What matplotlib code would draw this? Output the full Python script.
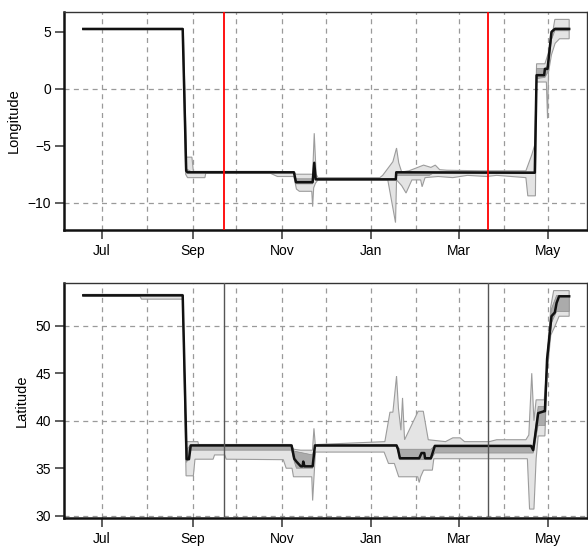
import numpy as np
import matplotlib
matplotlib.use("Agg")
import matplotlib.pyplot as plt
import matplotlib.dates as mdates

plt.rcParams['font.family'] = ['Liberation Sans', 'DejaVu Sans']
plt.rcParams['font.size'] = 10

# days counted from 2015-07-01
start = np.datetime64('2015-07-01T00:00')

# ---- Longitude ------------------------------------------------------------
lon_med_d = [-12.8, 55.2, 57.6, 58.5, 131.3, 132.7, 144.1, 145.2, 146.2, 201.0, 201.3,
             296.1, 297.3, 302.5, 303.0, 304.8, 307.5, 309.8, 319.6]
lon_med = [5.26, 5.26, -7.2, -7.33, -7.33, -8.2, -8.2, -6.5, -7.95, -7.95, -7.33,
           -7.37, 1.2, 1.2, 1.75, 1.75, 5.0, 5.26, 5.26]

lon_hi95_d = [-12.8, 55.6, 57.8, 61.5, 62.5, 114.9, 131.0, 132.7, 144.1, 145.2, 146.5,
              147.7, 190.1, 192.0, 199.0, 201.5, 203.0, 205.0, 210.0, 216.0, 220.0,
              225.0, 228.0, 231.0, 236.0, 260.0, 290.0, 294.0, 296.1, 297.3, 303.0,
              305.0, 307.0, 309.8, 319.6]
lon_hi95 = [5.3, 5.3, -6.0, -6.0, -7.25, -7.25, -7.3, -7.5, -7.5, -3.9, -7.5,
            -7.8, -7.8, -7.6, -6.4, -5.2, -6.5, -7.3, -7.2, -6.9, -6.7,
            -6.9, -6.7, -7.1, -7.15, -7.2, -7.2, -5.8, -4.9, 2.2, 2.2,
            3.0, 4.0, 6.1, 6.1]

lon_lo95_d = [-12.8, 55.2, 57.2, 58.5, 70.4, 71.0, 114.9, 120.0, 131.3, 133.0, 135.0,
              143.5, 144.1, 144.8, 146.0, 147.7, 195.5, 200.8, 201.5, 205.0, 208.0,
              212.0, 218.0, 219.0, 221.0, 230.0, 240.0, 250.0, 263.0, 270.0, 280.0,
              290.0, 291.3, 296.5, 297.3, 304.0, 304.8, 305.5, 307.5, 310.0, 313.0, 319.6]
lon_lo95 = [5.2, 5.2, -7.5, -7.8, -7.8, -7.4, -7.4, -7.7, -7.7, -8.8, -9.0,
            -9.0, -10.35, -8.7, -8.3, -8.0, -8.0, -11.75, -8.0, -8.5, -9.15,
            -8.0, -8.0, -8.6, -7.8, -7.7, -7.8, -7.6, -7.7, -7.6, -7.7,
            -7.8, -9.4, -9.4, 0.6, 0.6, -2.6, 1.5, 3.0, 4.0, 4.4, 4.4]

lon_hi50_d = [-12.8, 55.2, 57.5, 60.0, 62.0, 131.3, 132.7, 144.1, 145.2, 146.2, 201.0,
              201.3, 296.0, 297.3, 303.0, 304.8, 307.5, 309.8, 319.6]
lon_hi50 = [5.28, 5.28, -7.0, -7.2, -7.3, -7.3, -7.9, -7.9, -6.4, -7.9, -7.9,
            -7.3, -7.3, 1.8, 1.8, 2.0, 5.1, 5.35, 5.35]
lon_lo50_d = [-12.8, 55.2, 57.6, 62.0, 131.3, 132.7, 144.1, 145.2, 146.2, 201.0, 201.3,
              224.0, 226.0, 296.0, 297.3, 303.0, 304.8, 307.5, 309.8, 319.6]
lon_lo50 = [5.24, 5.24, -7.4, -7.4, -7.4, -8.35, -8.35, -7.2, -8.0, -8.0, -7.6,
            -7.6, -7.45, -7.45, 0.9, 1.0, 1.4, 4.3, 5.1, 5.1]

# ---- Latitude -------------------------------------------------------------
lat_med_d = [-12.8, 55.2, 57.9, 59.5, 60.7, 129.7, 131.5, 133.0, 136.0, 137.2, 137.7,
             138.5, 144.1, 145.7, 201.5, 202.5, 203.8, 217.0, 218.6, 220.5, 221.0,
             225.0, 227.7, 293.5, 295.0, 298.4, 302.5, 303.0, 304.5, 307.5, 309.8,
             311.0, 312.7, 319.6]
lat_med = [53.2, 53.2, 35.95, 35.95, 37.4, 37.4, 36.0, 35.7, 35.2, 35.2, 35.7,
           35.2, 35.2, 37.4, 37.4, 37.0, 36.05, 36.05, 36.6, 36.6, 36.05,
           36.05, 37.35, 37.35, 36.9, 40.8, 41.0, 41.0, 46.5, 51.0, 51.4,
           52.4, 53.1, 53.1]

lat_hi95_d = [-12.8, 55.2, 57.5, 65.6, 66.0, 129.0, 131.0, 136.0, 144.0, 145.0, 146.0,
              147.7, 193.5, 197.0, 199.0, 201.5, 202.8, 204.5, 205.6, 207.0, 216.3,
              219.8, 223.2, 235.0, 240.0, 245.0, 248.0, 265.0, 270.0, 290.0, 292.0,
              294.0, 295.5, 297.0, 302.5, 303.0, 305.0, 307.0, 309.0, 319.6]
lat_hi95 = [53.3, 53.3, 37.8, 37.8, 37.5, 37.5, 37.0, 36.9, 36.9, 39.2, 37.3,
            37.5, 37.8, 40.9, 40.9, 44.7, 41.3, 39.0, 42.4, 38.0, 41.0,
            41.0, 38.0, 37.8, 38.2, 38.2, 37.8, 37.8, 38.0, 38.0, 38.5,
            45.0, 40.0, 42.2, 42.2, 43.0, 47.0, 52.0, 53.7, 53.7]

lat_lo95_d = [-12.8, 26.0, 27.0, 55.2, 56.0, 57.5, 62.5, 63.6, 76.0, 77.0, 84.0,
              85.0, 124.0, 126.0, 130.0, 131.0, 133.0, 143.5, 144.1, 145.0, 146.0,
              193.0, 196.0, 200.0, 203.0, 216.0, 217.0, 218.0, 220.0, 226.0, 227.0,
              291.0, 292.5, 295.5, 297.0, 298.4, 303.0, 304.5, 307.0, 310.0, 312.7, 319.6]
lat_lo95 = [53.1, 53.1, 52.8, 52.8, 46.4, 34.2, 34.2, 35.95, 35.95, 36.4, 36.4,
            35.95, 35.9, 35.0, 35.0, 34.1, 34.1, 34.1, 31.6, 34.0, 36.7,
            36.7, 35.5, 35.5, 34.1, 34.1, 33.5, 34.1, 34.8, 34.8, 36.0,
            36.0, 30.7, 30.7, 36.0, 38.4, 38.4, 45.0, 49.0, 50.0, 51.0, 51.0]

lat_hi50_d = [-12.8, 55.2, 57.9, 60.7, 129.7, 131.5, 144.0, 145.7, 201.5, 203.8, 225.0,
              227.7, 293.5, 295.0, 298.4, 303.0, 304.5, 307.5, 311.0, 319.6]
lat_hi50 = [53.25, 53.25, 37.0, 37.45, 37.45, 36.8, 36.4, 37.45, 37.45, 37.0, 37.0,
            37.4, 37.4, 37.4, 41.5, 41.5, 47.0, 51.8, 53.2, 53.2]
lat_lo50_d = [-12.8, 55.2, 57.9, 60.7, 129.7, 131.5, 133.0, 144.1, 145.7, 201.5, 203.8,
              225.0, 227.7, 293.5, 295.0, 298.4, 303.0, 304.5, 307.5, 311.0, 319.6]
lat_lo50 = [53.15, 53.15, 35.6, 36.9, 36.9, 35.7, 35.0, 35.0, 37.3, 37.3, 35.9,
            35.9, 36.6, 36.6, 36.6, 39.5, 39.5, 45.5, 50.3, 51.5, 51.5]

# equinoxes (days from 2015-07-01)
equinox_d = [83.4, 263.8]


def to_num(days):
    days = np.asarray(days, dtype=float)
    t = start + (days * 86400).astype('timedelta64[s]')
    return mdates.date2num(t)


month_starts = [np.datetime64('2015-%02d-01' % m) for m in range(7, 13)] + \
               [np.datetime64('2016-%02d-01' % m) for m in range(1, 6)]
month_num = mdates.date2num(month_starts)
tick_num = month_num[::2]

xlim = (to_num([-26.0])[0], to_num([331.8])[0])


def panel(ax, med, hi95, lo95, hi50, lo50, ylab, ylim, yticks, hgrid, eq_col, eq_lw):
    for xm in month_num:
        ax.axvline(xm, color='#9a9a9a', lw=0.9, ls=(0, (4, 3.5)), zorder=1)
    for yg in hgrid:
        ax.axhline(yg, color='#9a9a9a', lw=0.9, ls=(0, (4, 3.5)), zorder=1)

    xh, yh = to_num(hi95[0]), np.array(hi95[1])
    xl, yl = to_num(lo95[0]), np.array(lo95[1])
    ax.fill(np.r_[xh, xl[::-1]], np.r_[yh, yl[::-1]], facecolor='#e4e4e4',
            edgecolor='#9c9c9c', lw=0.8, zorder=2)
    xh, yh = to_num(hi50[0]), np.array(hi50[1])
    xl, yl = to_num(lo50[0]), np.array(lo50[1])
    ax.fill(np.r_[xh, xl[::-1]], np.r_[yh, yl[::-1]], facecolor='#ababab',
            edgecolor='#8c8c8c', lw=0.5, zorder=3)

    ax.plot(to_num(med[0]), med[1], color='#111111', lw=1.8, zorder=4)

    for xe in to_num(equinox_d):
        ax.axvline(xe, color=eq_col, lw=eq_lw, zorder=5)

    ax.set_xlim(xlim)
    ax.set_ylim(ylim)
    ax.set_xticks(tick_num)
    ax.xaxis.set_major_formatter(mdates.DateFormatter('%b'))
    ax.set_yticks(yticks)
    ax.set_yticklabels([('\u2212%d' % -v) if v < 0 else '%d' % v for v in yticks])
    ax.set_ylabel(ylab, labelpad=5, fontsize=10.5)
    ax.tick_params(axis='both', direction='out', length=6.5, width=1.1, color='#333333',
                   labelsize=10)
    ax.tick_params(axis='y', pad=3)
    ax.tick_params(axis='x', pad=3.5)
    for s in ['top', 'right']:
        ax.spines[s].set_linewidth(1.0)
        ax.spines[s].set_color('#333333')
    for s in ['left', 'bottom']:
        ax.spines[s].set_linewidth(1.8)
        ax.spines[s].set_color('#111111')


fig = plt.figure(figsize=(5.88, 5.46), dpi=100)
ax1 = fig.add_axes([64 / 588, 1 - 230 / 546, 523 / 588, 218 / 546])
ax2 = fig.add_axes([64 / 588, 1 - 518 / 546, 523 / 588, 235 / 546])

panel(ax1, (lon_med_d, lon_med), (lon_hi95_d, lon_hi95), (lon_lo95_d, lon_lo95),
      (lon_hi50_d, lon_hi50), (lon_lo50_d, lon_lo50),
      'Longitude', (-12.4, 6.75), [5, 0, -5, -10], [0, -10], 'red', 1.3)
panel(ax2, (lat_med_d, lat_med), (lat_hi95_d, lat_hi95), (lat_lo95_d, lat_lo95),
      (lat_hi50_d, lat_hi50), (lat_lo50_d, lat_lo50),
      'Latitude', (29.76, 54.5), [50, 45, 40, 35, 30], [50, 40, 30], '#555555', 1.0)

fig.savefig('out.png', dpi=100)
